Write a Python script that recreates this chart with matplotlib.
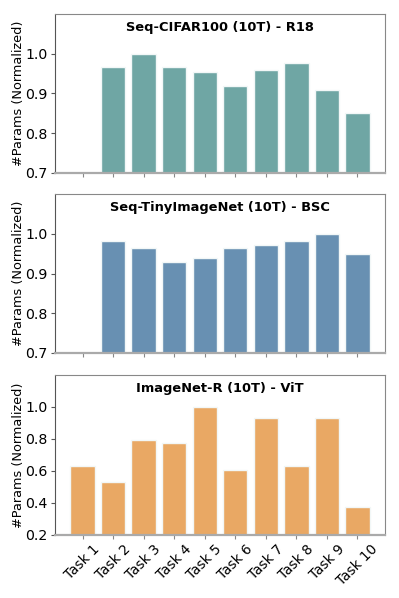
import matplotlib.pyplot as plt
import numpy as np

tasks = ["Task 1", "Task 2", "Task 3", "Task 4", "Task 5",
         "Task 6", "Task 7", "Task 8", "Task 9", "Task 10"]

cifar_vals = [0.0, 0.966, 1.0, 0.966, 0.954, 0.918, 0.959, 0.976, 0.910, 0.851]
tiny_vals = [0.0, 0.982, 0.963, 0.929, 0.939, 0.963, 0.972, 0.982, 1.0, 0.950]
inr_vals = [0.629, 0.531, 0.791, 0.772, 1.0, 0.608, 0.931, 0.634, 0.931, 0.372]

titles = ["Seq-CIFAR100 (10T) - R18", "Seq-TinyImageNet (10T) - BSC", "ImageNet-R (10T) - ViT"]
colores = ["#6fa6a4", "#6890b2", "#e9a864"]
ylims = [(0.7, 1.1), (0.7, 1.1), (0.2, 1.2)]
yticks = [[0.7, 0.8, 0.9, 1.0], [0.7, 0.8, 0.9, 1.0], [0.2, 0.4, 0.6, 0.8, 1.0]]

fig = plt.figure(figsize=(3.99, 5.98), dpi=100)
# axes rects in figure fractions (left, bottom, width, height)
rects = [(55/399, 1-173/598, 330/399, 159/598),
         (55/399, 1-353/598, 330/399, 159/598),
         (55/399, 1-535/598, 330/399, 160/598)]

x = np.arange(len(tasks))
for i, vals in enumerate([cifar_vals, tiny_vals, inr_vals]):
    ax = fig.add_axes(rects[i])
    ax.bar(x, vals, width=0.8, color=colores[i], edgecolor="#f2f7f7", linewidth=1.0)
    ax.set_ylim(*ylims[i])
    ax.set_xlim(-0.9, 9.9)
    ax.set_yticks(yticks[i])
    ax.set_yticklabels([f"{v:.1f}" for v in yticks[i]], fontsize=10.2)
    ax.set_xticks(x)
    if i == 2:
        ax.set_xticklabels(tasks, rotation=45, fontsize=9.8)
    else:
        ax.set_xticklabels([])
    ax.set_ylabel("#Params (Normalized)", fontsize=9.3)
    ax.yaxis.set_label_coords(-0.092, 0.5)
    ax.text(0.5, 0.915, titles[i], transform=ax.transAxes, ha="center", va="center",
            fontsize=9.4, fontweight="bold")
    for s in ["top", "right"]:
        ax.spines[s].set_color("#888888")
        ax.spines[s].set_linewidth(0.8)
    ax.spines["left"].set_color("#555555")
    ax.spines["left"].set_linewidth(0.8)
    ax.spines["bottom"].set_color("#aaaaaa")
    ax.spines["bottom"].set_linewidth(1.6)
    ax.tick_params(axis="x", length=3, color="#888888", pad=2)
    ax.tick_params(axis="y", length=3, color="#555555", pad=2.5)

plt.savefig("out.png", dpi=100)
